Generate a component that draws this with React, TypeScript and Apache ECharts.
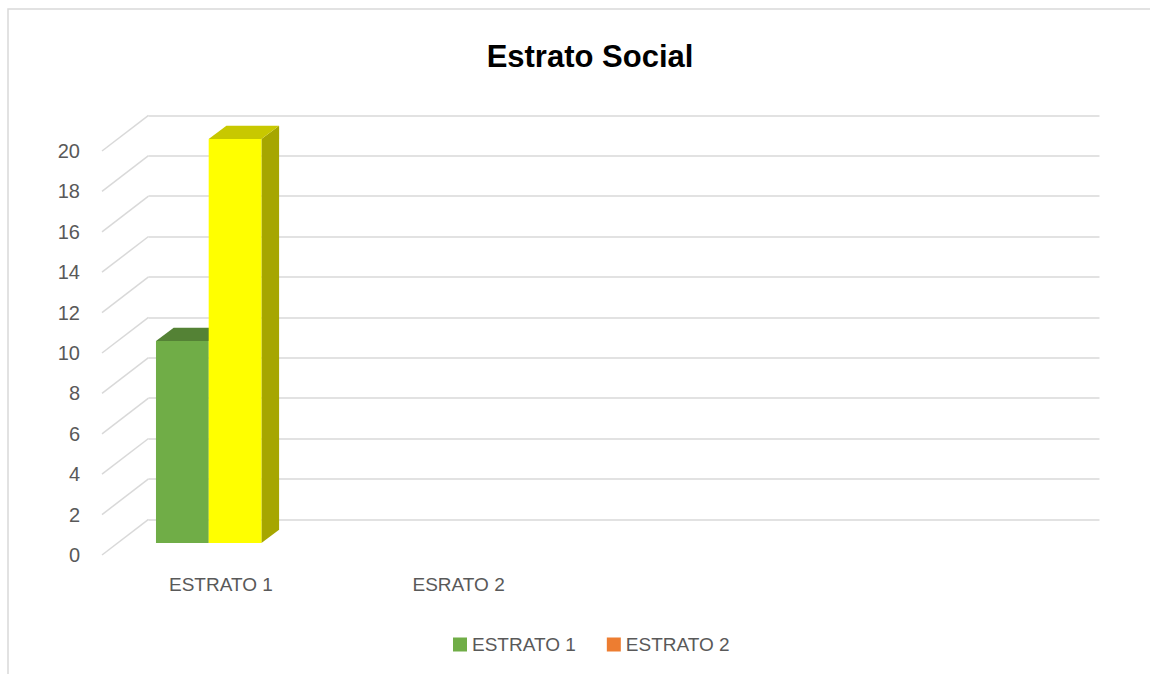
import React, { useEffect, useRef } from "react";
import * as echarts from "echarts";

// ---- data ----
const categories = ["ESTRATO 1", "ESRATO 2", "", ""];
const seriesNames = ["ESTRATO 1", "ESTRATO 2"];
const estrato1 = [10, null, null, null];
const estrato2 = [20, null, null, null];
const yTicks = [0, 2, 4, 6, 8, 10, 12, 14, 16, 18, 20];
const yMin = 0;
const yMax = 20;
const yStep = 2;

// ---- styling constants (3D look) ----
const WALL_DX = 46.5; // depth offset of back wall
const WALL_DY = 35.7;
const FACE_DX = 15.7; // bar front face depth offset
const FACE_DY = 12;
const BAR_DX = 17.7; // bar depth
const BAR_DY = 13.3;
const BAR_START = 0.161; // fraction of band
const BAR_W = 0.2217;
const legendColors = ["#70AD47", "#ED7D31"];
const barStyles = [
  { face: "#70AD47", top: "#548235", side: "#507E32" },
  { face: "#FFFF00", top: "#C8C800", side: "#A6A600" },
];
const FONT = "'Liberation Sans', Arial, sans-serif";
const TXT = "#595959";
const GRID_COLOR = "#D9D9D9";

function barRender(k: number) {
  return (params: any, api: any) => {
    const v = api.value(1);
    if (v == null || isNaN(v)) return null;
    const cat = api.value(0);
    const base = api.coord([cat, 0]);
    const top = api.coord([cat, v]);
    const band = api.size([1, 0])[0];
    const bandStart = base[0] - band / 2;
    const x0 = bandStart + band * (BAR_START + k * BAR_W) + FACE_DX;
    const x1 = x0 + band * BAR_W;
    const y0 = base[1] - FACE_DY;
    const yT = top[1] - FACE_DY;
    const st = barStyles[k];
    return {
      type: "group",
      children: [
        {
          type: "polygon",
          shape: { points: [[x1, yT], [x1 + BAR_DX, yT - BAR_DY], [x1 + BAR_DX, y0 - BAR_DY], [x1, y0]] },
          style: { fill: st.side },
        },
        {
          type: "polygon",
          shape: { points: [[x0, yT], [x1, yT], [x1 + BAR_DX, yT - BAR_DY], [x0 + BAR_DX, yT - BAR_DY]] },
          style: { fill: st.top },
        },
        {
          type: "rect",
          shape: { x: x0, y: yT, width: x1 - x0, height: y0 - yT },
          style: { fill: st.face },
        },
      ],
    };
  };
}

export default function App() {
  const ref = useRef<HTMLDivElement>(null);
  useEffect(() => {
    if (!ref.current) return;
    const chart = echarts.init(ref.current, null, { renderer: "svg" });
    const option: any = {
      animation: false,
      backgroundColor: "#FFFFFF",
      title: {
        text: "Estrato Social",
        left: 585,
        textAlign: "center",
        top: 36,
        textStyle: { fontFamily: FONT, fontSize: 31, fontWeight: "bold", color: "#000000" },
      },
      legend: {
        data: seriesNames,
        left: 448,
        top: 630,
        icon: "rect",
        itemWidth: 14,
        itemHeight: 14,
        itemGap: 31,
        textStyle: { fontFamily: FONT, fontSize: 19, color: TXT },
      },
      graphic: [
        {
          type: "rect",
          shape: { x: 8, y: 9, width: 1200, height: 700 },
          style: { fill: "none", stroke: GRID_COLOR, lineWidth: 1.5 },
          silent: true,
        },
      ],
      grid: [
        { left: 102 + WALL_DX, right: 97 - WALL_DX, top: 151 - WALL_DY, bottom: 119 + WALL_DY },
        { left: 102, right: 97, top: 151, bottom: 119 },
      ],
      xAxis: [
        { type: "category", gridIndex: 0, data: categories, show: false },
        {
          type: "category",
          gridIndex: 1,
          data: categories,
          axisLine: { show: false },
          axisTick: { show: false },
          axisLabel: { margin: 20, fontFamily: FONT, fontSize: 19, color: TXT, interval: 0 },
        },
      ],
      yAxis: [
        {
          type: "value",
          gridIndex: 0,
          min: yMin,
          max: yMax,
          interval: yStep,
          axisLabel: { show: false },
          axisLine: { show: false },
          axisTick: { show: false },
          splitLine: { show: true, lineStyle: { color: GRID_COLOR, width: 1.5 } },
        },
        {
          type: "value",
          gridIndex: 1,
          min: yMin,
          max: yMax,
          interval: yStep,
          axisLine: { show: false },
          axisTick: { show: false },
          splitLine: { show: false },
          axisLabel: { margin: 22, fontFamily: FONT, fontSize: 20, color: TXT },
        },
      ],
      series: [
        {
          name: "diag",
          type: "custom",
          xAxisIndex: 1,
          yAxisIndex: 1,
          clip: false,
          silent: true,
          data: yTicks.map((t) => [0, t]),
          renderItem: (params: any, api: any) => {
            const p = api.coord([0, api.value(1)]);
            const band = api.size([1, 0])[0];
            const x = p[0] - band / 2;
            return {
              type: "line",
              shape: { x1: x, y1: p[1], x2: x + WALL_DX, y2: p[1] - WALL_DY },
              style: { stroke: GRID_COLOR, lineWidth: 1.5 },
            };
          },
        },
        {
          name: seriesNames[0],
          type: "custom",
          xAxisIndex: 1,
          yAxisIndex: 1,
          clip: false,
          itemStyle: { color: legendColors[0] },
          data: categories.map((c, i) => [i, estrato1[i]]),
          renderItem: barRender(0),
        },
        {
          name: seriesNames[1],
          type: "custom",
          xAxisIndex: 1,
          yAxisIndex: 1,
          clip: false,
          itemStyle: { color: legendColors[1] },
          data: categories.map((c, i) => [i, estrato2[i]]),
          renderItem: barRender(1),
        },
      ],
    };
    chart.setOption(option);
    return () => chart.dispose();
  }, []);
  return (
    <div
      ref={ref}
      style={{ position: "absolute", left: 0, top: 0, width: 1150, height: 674 }}
    />
  );
}
